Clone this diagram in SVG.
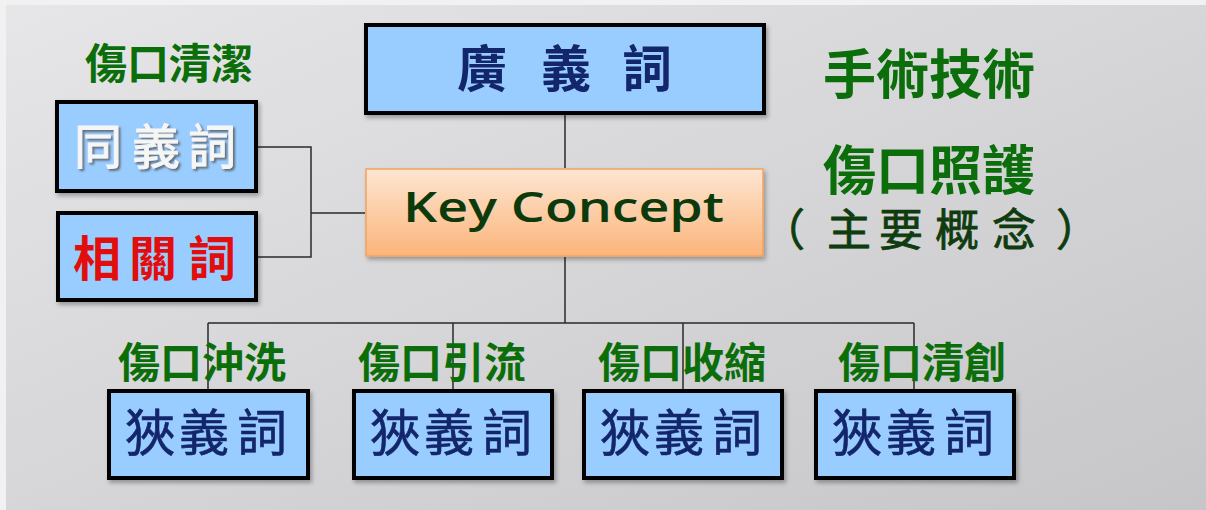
<svg xmlns="http://www.w3.org/2000/svg" width="1206" height="510" viewBox="0 0 1206 510">
<defs>
<linearGradient id="bg" x1="0" y1="0" x2="1" y2="1">
<stop offset="0" stop-color="#e6e6e8"/>
<stop offset="1" stop-color="#c6c6c8"/>
</linearGradient>
<linearGradient id="kc" x1="0" y1="0" x2="0" y2="1">
<stop offset="0" stop-color="#fde6d2"/>
<stop offset="1" stop-color="#fbb47a"/>
</linearGradient>
<filter id="sh" x="-10%" y="-10%" width="130%" height="140%">
<feDropShadow dx="2" dy="3" stdDeviation="2" flood-color="#000" flood-opacity="0.3"/>
</filter>
<filter id="tsh" x="-10%" y="-10%" width="130%" height="130%">
<feDropShadow dx="2" dy="2" stdDeviation="1" flood-color="#555" flood-opacity="0.8"/>
</filter>
</defs>
<style>
.box{fill:#99ccff;stroke:#000;stroke-width:4}
.cjk{font-family:"Noto Sans CJK TC","Noto Sans CJK SC",sans-serif}
.navy{fill:#13266b;font-size:50px}
.green{fill:#0b6e0b;font-size:42px;font-weight:bold}
.big{fill:#0b6e0b;font-size:53px;font-weight:bold}
.ln{stroke:#2a2a2a;stroke-width:1.5;fill:none}
</style>
<rect x="0" y="0" width="1206" height="510" fill="#f1f1f1"/>
<rect x="6" y="5" width="1200" height="505" fill="url(#bg)"/>
<g id="connectors" class="ln">
<path d="M258,147 H311 V257 H258 M311,213 H365"/>
<path d="M565,115 V168 M565,257 V323 M208,323 H914 M208,323 V389 M453,323 V389 M683,323 V389 M914,323 V389"/>
</g>
<g id="broad">
<rect class="box" x="366" y="25" width="398" height="88" filter="url(#sh)"/>
<text class="cjk navy" font-weight="bold" x="482 566 647" y="87" text-anchor="middle">廣義詞</text>
</g>
<g id="key">
<rect x="366" y="169" width="397" height="87" fill="url(#kc)" stroke="#f2a360" stroke-width="1.5" filter="url(#sh)"/>
<text x="403" y="222" font-family="'Open Sans',sans-serif" font-size="42" fill="#0c3a0c" font-weight="600" textLength="321" lengthAdjust="spacingAndGlyphs">Key Concept</text>
</g>
<g id="synonym">
<text class="cjk green" x="169" y="79" text-anchor="middle">傷口清潔</text>
<rect class="box" x="57" y="102" width="199" height="89" filter="url(#sh)"/>
<text class="cjk" font-size="48" fill="#f6f6f6" stroke="#f6f6f6" stroke-width="1" x="98 156 212" y="164" text-anchor="middle" filter="url(#tsh)">同義詞</text>
</g>
<g id="related">
<rect class="box" x="58" y="213" width="198" height="87" filter="url(#sh)"/>
<text class="cjk" font-size="48" font-weight="bold" fill="#e20d0d" x="97 153 212" y="276" text-anchor="middle">相關詞</text>
</g>
<g id="main">
<text class="cjk big" x="929" y="94" text-anchor="middle">手術技術</text>
<text class="cjk big" x="929" y="190" text-anchor="middle">傷口照護</text>
<text class="cjk" font-size="44" fill="#0f3c0f" stroke="#0f3c0f" stroke-width="0.8" x="783 849 901 957 1014 1078" y="246" text-anchor="middle">（主要概念）</text>
</g>
<g id="narrow1">
<text class="cjk green" x="202" y="378" text-anchor="middle">傷口沖洗</text>
<rect class="box" x="109" y="391" width="199" height="87" filter="url(#sh)"/>
<text class="cjk navy" stroke="#13266b" stroke-width="0.6" x="150 204 262" y="451" text-anchor="middle">狹義詞</text>
</g>
<g id="narrow2">
<text class="cjk green" x="442" y="378" text-anchor="middle">傷口引流</text>
<rect class="box" x="354" y="391" width="198" height="87" filter="url(#sh)"/>
<text class="cjk navy" stroke="#13266b" stroke-width="0.6" x="395 449 507" y="451" text-anchor="middle">狹義詞</text>
</g>
<g id="narrow3">
<text class="cjk green" x="682" y="378" text-anchor="middle">傷口收縮</text>
<rect class="box" x="584" y="391" width="198" height="87" filter="url(#sh)"/>
<text class="cjk navy" stroke="#13266b" stroke-width="0.6" x="625 679 737" y="451" text-anchor="middle">狹義詞</text>
</g>
<g id="narrow4">
<text class="cjk green" x="922" y="378" text-anchor="middle">傷口清創</text>
<rect class="box" x="816" y="391" width="198" height="87" filter="url(#sh)"/>
<text class="cjk navy" stroke="#13266b" stroke-width="0.6" x="857 911 969" y="451" text-anchor="middle">狹義詞</text>
</g>
</svg>
